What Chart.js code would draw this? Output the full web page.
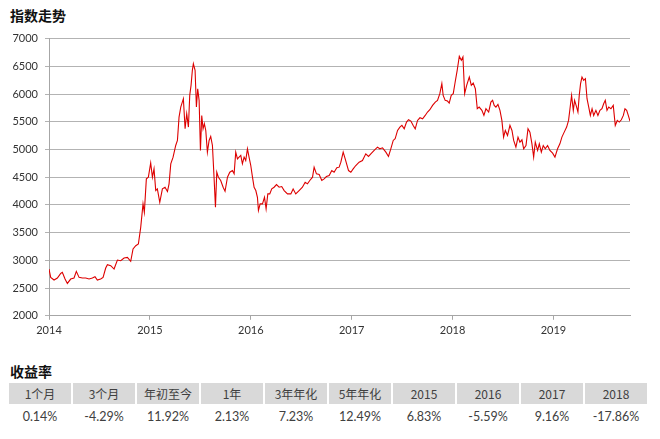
<!DOCTYPE html>
<html>
<head>
<meta charset="utf-8">
<script src="https://cdn.jsdelivr.net/npm/chart.js@4.4.0/dist/chart.umd.min.js"></script>
<style>
  html, body { margin: 0; padding: 0; background: #fff; }
  body { width: 660px; height: 439px; position: relative; overflow: hidden;
         font-family: "Noto Sans CJK SC", Lato, sans-serif; color: #333; }
  .title { position: absolute; left: 10px; font-size: 14px; font-weight: bold; color: #111; }
  #chartBox { position: absolute; left: 0; top: 25px; width: 660px; height: 316px; }
  #tbl { position: absolute; left: 9px; top: 383px; }
  .row { display: flex; }
  .cell { width: 62px; margin-right: 2px; text-align: center; font-size: 12px; color: #404040; }
  .head .cell { background: #d9d9d9; height: 21px; line-height: 21px; }
  .vals .cell { height: 22px; line-height: 22px; margin-top: 2px; font-family: Lato, "Noto Sans CJK SC", sans-serif; font-size: 12.5px; }
</style>
</head>
<body>
<div class="title" style="top:5px">指数走势</div>
<div id="chartBox"><canvas id="lineChart"></canvas></div>
<div class="title" style="top:361px">收益率</div>
<div id="tbl">
  <div class="row head" id="headRow"></div>
  <div class="row vals" id="valRow"></div>
</div>

<script>
// index trend, x = decimal year
const dates = [
  2014.000, 2014.017, 2014.050, 2014.083, 2014.116, 2014.132, 2014.159, 2014.182, 2014.215, 2014.248,
  2014.271, 2014.298, 2014.331, 2014.364, 2014.397, 2014.430, 2014.456, 2014.479, 2014.512, 2014.536,
  2014.562, 2014.579, 2014.612, 2014.645, 2014.678, 2014.711, 2014.744, 2014.777, 2014.810, 2014.833,
  2014.860, 2014.886, 2014.909, 2014.932, 2014.945, 2014.965, 2014.985, 2015.008, 2015.025, 2015.041,
  2015.058, 2015.074, 2015.098, 2015.124, 2015.150, 2015.174, 2015.190, 2015.207, 2015.230, 2015.256,
  2015.273, 2015.289, 2015.306, 2015.332, 2015.349, 2015.365, 2015.382, 2015.395, 2015.408, 2015.421,
  2015.431, 2015.448, 2015.461, 2015.474, 2015.488, 2015.501, 2015.514, 2015.527, 2015.540, 2015.554,
  2015.570, 2015.587, 2015.603, 2015.620, 2015.636, 2015.650, 2015.663, 2015.679, 2015.702, 2015.726,
  2015.745, 2015.769, 2015.792, 2015.818, 2015.835, 2015.851, 2015.868, 2015.884, 2015.901, 2015.917,
  2015.934, 2015.950, 2015.967, 2015.983, 2016.000, 2016.017, 2016.033, 2016.050, 2016.066, 2016.076,
  2016.093, 2016.116, 2016.136, 2016.152, 2016.169, 2016.188, 2016.208, 2016.231, 2016.255, 2016.281,
  2016.307, 2016.331, 2016.364, 2016.397, 2016.420, 2016.446, 2016.479, 2016.512, 2016.539, 2016.562,
  2016.585, 2016.612, 2016.628, 2016.651, 2016.678, 2016.704, 2016.727, 2016.750, 2016.777, 2016.803,
  2016.826, 2016.853, 2016.876, 2016.893, 2016.916, 2016.936, 2016.969, 2016.992, 2017.015, 2017.041,
  2017.074, 2017.107, 2017.140, 2017.167, 2017.190, 2017.223, 2017.256, 2017.279, 2017.306, 2017.339,
  2017.365, 2017.388, 2017.412, 2017.431, 2017.455, 2017.478, 2017.498, 2017.521, 2017.544, 2017.564,
  2017.587, 2017.610, 2017.630, 2017.653, 2017.677, 2017.703, 2017.729, 2017.752, 2017.775, 2017.802,
  2017.829, 2017.851, 2017.874, 2017.894, 2017.907, 2017.927, 2017.950, 2017.967, 2017.987, 2018.007,
  2018.026, 2018.046, 2018.067, 2018.087, 2018.103, 2018.120, 2018.140, 2018.166, 2018.186, 2018.205,
  2018.226, 2018.245, 2018.264, 2018.291, 2018.311, 2018.331, 2018.358, 2018.380, 2018.397, 2018.413,
  2018.430, 2018.450, 2018.470, 2018.489, 2018.506, 2018.523, 2018.545, 2018.569, 2018.589, 2018.606,
  2018.628, 2018.649, 2018.668, 2018.688, 2018.705, 2018.728, 2018.748, 2018.767, 2018.787, 2018.804,
  2018.820, 2018.843, 2018.860, 2018.880, 2018.899, 2018.919, 2018.942, 2018.965, 2018.992, 2019.015,
  2019.041, 2019.064, 2019.084, 2019.107, 2019.131, 2019.150, 2019.164, 2019.180, 2019.197, 2019.210,
  2019.230, 2019.243, 2019.256, 2019.269, 2019.283, 2019.300, 2019.317, 2019.333, 2019.350, 2019.366,
  2019.383, 2019.399, 2019.421, 2019.441, 2019.461, 2019.481, 2019.498, 2019.514, 2019.531, 2019.548,
  2019.570, 2019.593, 2019.613, 2019.633, 2019.653, 2019.673, 2019.693, 2019.709, 2019.726, 2019.742,
  2019.759
];
const index = [
  2843, 2693, 2645, 2681, 2765, 2783, 2663, 2584, 2663, 2681,
  2801, 2693, 2681, 2681, 2663, 2681, 2705, 2645, 2663, 2693,
  2861, 2922, 2904, 2843, 3006, 2994, 3042, 3054, 2982, 3205,
  3265, 3295, 3596, 4018, 3867, 4470, 4500, 4759, 4500, 4650,
  4259, 4289, 4048, 4289, 4319, 4241, 4380, 4741, 4862, 5072,
  5163, 5584, 5765, 5916, 5373, 5645, 5404, 5976, 6157, 6428,
  6548, 6428, 5765, 6096, 5886, 4982, 5614, 5373, 5464, 5343,
  4952, 5163, 5235, 5072, 4500, 3958, 4590, 4500, 4440, 4319,
  4247, 4500, 4590, 4620, 4560, 4952, 4831, 4862, 4892, 4741,
  4862, 4801, 5012, 4862, 4711, 4500, 4319, 4259, 4138, 3900,
  4018, 4018, 4138, 3930, 4199, 4199, 4289, 4319, 4367, 4319,
  4331, 4259, 4199, 4199, 4289, 4199, 4259, 4319, 4410, 4380,
  4440, 4500, 4681, 4560, 4548, 4440, 4470, 4512, 4530, 4620,
  4590, 4669, 4681, 4771, 4952, 4831, 4620, 4590, 4650, 4711,
  4771, 4801, 4922, 4874, 4922, 4982, 5042, 5012, 5030, 4952,
  4874, 5012, 5163, 5193, 5343, 5404, 5434, 5373, 5494, 5536,
  5512, 5434, 5373, 5524, 5572, 5554, 5614, 5675, 5717, 5795,
  5855, 5886, 6006, 6187, 5976, 5886, 5874, 5837, 5976, 6006,
  6217, 6428, 6681, 6608, 6669, 6006, 6157, 6307, 6157, 6199,
  6096, 5735, 5765, 5705, 5614, 5735, 5675, 5855, 5886, 5795,
  5765, 5813, 5705, 5524, 5223, 5343, 5253, 5434, 5343, 5163,
  5042, 5223, 5133, 5175, 5012, 5072, 5373, 5313, 5102, 4862,
  5133, 4982, 5102, 4952, 5072, 5012, 5072, 4982, 4934, 4862,
  5012, 5102, 5223, 5313, 5404, 5524, 5735, 5976, 5705, 5886,
  5765, 5675, 5976, 6187, 6307, 6247, 6277, 5916, 5765, 5614,
  5735, 5614, 5705, 5614, 5705, 5735, 5825, 5886, 5705, 5765,
  5735, 5795, 5434, 5524, 5494, 5536, 5614, 5735, 5705, 5614,
  5512
];
const yearTicks = [2014, 2015, 2016, 2017, 2018, 2019];
const yTicks = [2000, 2500, 3000, 3500, 4000, 4500, 5000, 5500, 6000, 6500, 7000];

// return table
const periods = ["1个月", "3个月", "年初至今", "1年", "3年年化", "5年年化", "2015", "2016", "2017", "2018"];
const returns = ["0.14%", "-4.29%", "11.92%", "2.13%", "7.23%", "12.49%", "6.83%", "-5.59%", "9.16%", "-17.86%"];

const headRow = document.getElementById("headRow");
const valRow = document.getElementById("valRow");
periods.forEach((p, i) => {
  const h = document.createElement("div");
  h.className = "cell";
  h.textContent = p;
  headRow.appendChild(h);
  const v = document.createElement("div");
  v.className = "cell";
  v.textContent = returns[i];
  valRow.appendChild(v);
});

const tickFont = { family: "Lato, 'Noto Sans CJK SC', sans-serif", size: 11 };

lineChart = new Chart(document.getElementById("lineChart"), {
  type: "line",
  data: {
    datasets: [{
      data: dates.map((d, i) => ({ x: d, y: index[i] })),
      borderColor: "#dd0000",
      borderWidth: 1.1,
      pointRadius: 0,
      tension: 0,
      fill: false
    }]
  },
  options: {
    responsive: true,
    maintainAspectRatio: false,
    animation: false,
    layout: { padding: { top: 6, right: 30, left: 0, bottom: 0 } },
    plugins: { legend: { display: false }, tooltip: { enabled: false } },
    scales: {
      x: {
        type: "linear",
        min: yearTicks[0],
        max: dates[dates.length - 1],
        afterBuildTicks: s => { s.ticks = yearTicks.map(v => ({ value: v })); },
        ticks: { color: "#333", font: tickFont, padding: 4, maxRotation: 0,
                 callback: v => String(v) },
        grid: { drawOnChartArea: false, drawTicks: true, tickLength: 4, color: "#a6a6a6" },
        border: { color: "#a6a6a6", width: 1 }
      },
      y: {
        min: 2000,
        max: 7000,
        afterBuildTicks: s => { s.ticks = yTicks.map(v => ({ value: v })); },
        afterFit: s => { s.width = 49; },
        ticks: { color: "#333", font: tickFont, padding: 7, callback: v => String(v) },
        grid: { color: "#b3b3b3", lineWidth: 1, tickLength: 4 },
        border: { color: "#a6a6a6", width: 1 }
      }
    }
  }
});
</script>
</body>
</html>
